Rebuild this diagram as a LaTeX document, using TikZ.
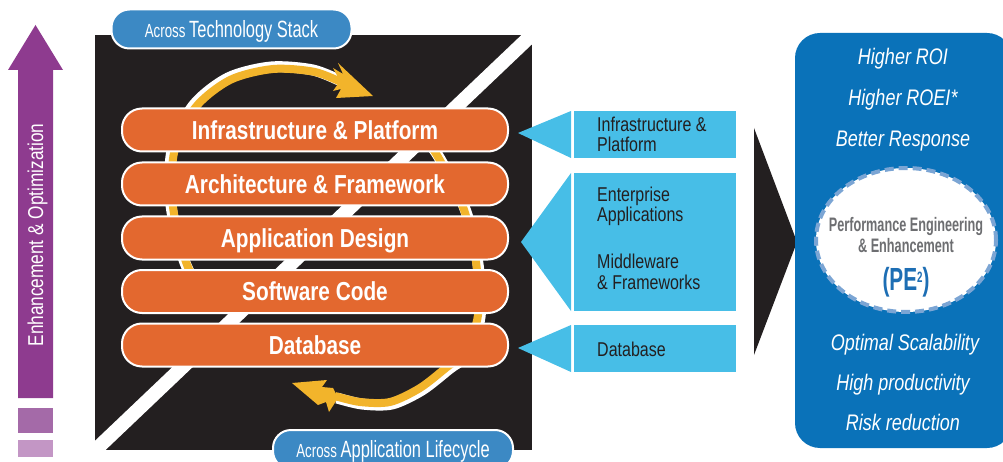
\documentclass[tikz,border=0pt]{standalone}
\usepackage{fontspec}
\setmainfont{Liberation Sans}
\newfontfamily\fA{Liberation Sans}[FakeStretch=0.8]
\newfontfamily\fB{Liberation Sans}[FakeStretch=0.7]
\newfontfamily\fC{Liberation Sans}[FakeStretch=0.65]
\usetikzlibrary{shapes.geometric}
\definecolor{cPurple}{HTML}{8E3B8F}
\definecolor{cPurpleB}{HTML}{A46AA8}
\definecolor{cPurpleC}{HTML}{C396C5}
\definecolor{cBlack}{HTML}{231F20}
\definecolor{cOrange}{HTML}{E3682F}
\definecolor{cYellow}{HTML}{F2B42B}
\definecolor{cPill}{HTML}{3C89C4}
\definecolor{cCyan}{HTML}{47BEE7}
\definecolor{cBlue}{HTML}{0A72B9}
\definecolor{cDash}{HTML}{7BA5D4}
\definecolor{cGray}{HTML}{6D6E71}
\definecolor{cPE}{HTML}{1D6EB4}
\begin{document}
\begin{tikzpicture}[x=1pt,y=-1pt,
  barbox/.style={draw=white, line width=2pt, fill=cOrange, rounded corners=20pt,
    minimum width=386pt, minimum height=43pt, inner sep=0pt, text=white,
    text height=18.4pt, text depth=0pt, font=\fA\bfseries\fontsize{26}{28}\selectfont},
  pillbox/.style={draw=white, line width=2pt, fill=cPill, rounded corners=18pt,
    minimum width=240pt, minimum height=39pt, inner sep=0pt, text=white,
    text height=16.8pt, text depth=0pt},
  cyantxt/.style={anchor=base west, inner sep=0pt, text=cBlack, font=\fA\fontsize{20}{20}\selectfont},
  bluetxt/.style={anchor=base, inner sep=0pt, text=white, font=\fA\itshape\fontsize{22.5}{24}\selectfont},
  yarc/.style={cYellow, line width=8pt},
  warc/.style={white, line width=11pt}
]
\useasboundingbox (0,0) rectangle (1003,462);

% purple arrow
\fill[cPurple] (18,398) -- (18,70) -- (8,70) -- (35.5,25) -- (63,70) -- (53,70) -- (53,398) -- cycle;
\fill[cPurpleB] (18,408) rectangle (53,433);
\fill[cPurpleC] (18,440) rectangle (53,457);
\node[rotate=90, anchor=base, inner sep=0pt, text=white, font=\fA\fontsize{21.5}{24}\selectfont] (enh) at (43,235) {Enhancement \& Optimization};

% black panel with diagonal stripe
\fill[cBlack] (95,35) rectangle (532,450);
\begin{scope}
  \clip (95,35) rectangle (532,450);
  \draw[white, line width=14pt] (540,27) -- (87,458);
\end{scope}

% yellow cycle arrows
\draw[warc, shift={(-2,-2)}] plot[smooth] coordinates {(204,298) (186,262) (173,207) (174,153) (195,108) (230,80) (273,69) (315,72) (345,84)};
\draw[yarc] plot[smooth] coordinates {(204,298) (186,262) (173,207) (174,153) (195,108) (230,80) (273,69) (315,72) (345,84)};
\fill[cYellow] (373,96) -- (338,63) -- (343,74) -- (333,68) -- (340,81) -- (333,91) -- (341,89) -- (336,98) -- cycle;

\draw[warc, shift={(2,2)}] plot[smooth] coordinates {(412,125) (435,152) (463,207) (476,262) (478,315) (465,352) (447,367) (420,388) (390,402) (360,402) (335,396)};
\draw[yarc] plot[smooth] coordinates {(412,125) (435,152) (463,207) (476,262) (478,315) (465,352) (447,367) (420,388) (390,402) (360,402) (335,396)};
\fill[cYellow] (292,383) -- (327,380) -- (322,387) -- (333,388) -- (338,398) -- (329,412) -- (326,402) -- (318,405) -- cycle;

% orange bars
\node[barbox] (b1) at (315,130) {Infrastructure \& Platform};
\node[barbox] (b2) at (315,184) {Architecture \& Framework};
\node[barbox] (b3) at (315,238) {Application Design};
\node[barbox] (b4) at (315,291.5) {Software Code};
\node[barbox] (b5) at (315,345) {Database};

% pills
\node[pillbox] (p1) at (231.5,29) {\fB\fontsize{19}{20}\selectfont Across \fontsize{23.5}{24}\selectfont Technology Stack};
\node[pillbox] (p2) at (393,449.5) {\fB\fontsize{19}{20}\selectfont Across \fontsize{23.5}{24}\selectfont Application Lifecycle};

% cyan callouts
\fill[cCyan] (518,133) -- (571,111) -- (571,158) -- cycle;
\fill[cCyan] (574,111) rectangle (736,158);
\fill[cCyan] (521,242) -- (571,173) -- (571,311) -- cycle;
\fill[cCyan] (574,173) rectangle (736,311);
\fill[cCyan] (518,348) -- (571,325) -- (571,372) -- cycle;
\fill[cCyan] (574,325) rectangle (736,372);
\node[cyantxt] (c1a) at (597,132) {Infrastructure \&};
\node[cyantxt] (c1b) at (597,151.5) {Platform};
\node[cyantxt] (c2a) at (597,202) {Enterprise};
\node[cyantxt] (c2b) at (597,222) {Applications};
\node[cyantxt] (c2c) at (597,269) {Middleware};
\node[cyantxt] (c2d) at (597,289) {\& Frameworks};
\node[cyantxt] (c3a) at (597,356) {Database};

% black pointer
\fill[cBlack] (754,128) -- (797,242) -- (754,355) -- cycle;

% right blue panel
\fill[cBlue, rounded corners=25pt] (795,33) rectangle (1012,448);
\node[bluetxt] (r1) at (903,65) {Higher ROI};
\node[bluetxt] (r2) at (903,106) {Higher ROEI*};
\node[bluetxt] (r3) at (903,146.5) {Better Response};
\node[bluetxt] (r4) at (905,350) {Optimal Scalability};
\node[bluetxt] (r5) at (903,390) {High productivity};
\node[bluetxt] (r6) at (903,430) {Risk reduction};

\node[ellipse, draw=cDash, line width=4pt, dash pattern=on 9pt off 5pt, fill=white,
  minimum width=180pt, minimum height=144pt, inner sep=0pt] (pe) at (906,240) {};
\node[anchor=base, inner sep=0pt, text=cGray, font=\fC\bfseries\fontsize{19.5}{20}\selectfont] (pe1) at (906,231.5) {Performance Engineering};
\node[anchor=base, inner sep=0pt, text=cGray, font=\fC\bfseries\fontsize{19.5}{20}\selectfont] (pe2) at (906,252) {\& Enhancement};
\node[anchor=base, inner sep=0pt, text=cPE, font=\fC\bfseries\fontsize{32}{34}\selectfont] (pe3) at (906,290) {(PE\raisebox{8pt}{\fontsize{15}{16}\selectfont 2})};
\end{tikzpicture}
\end{document}
